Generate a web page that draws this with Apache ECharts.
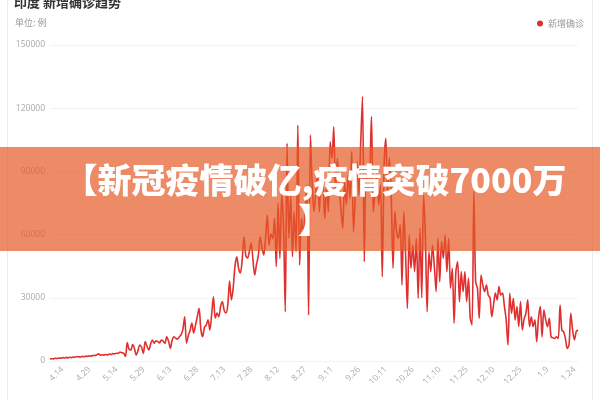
<!DOCTYPE html>
<html>
<head>
<meta charset="utf-8">
<script src="https://cdn.jsdelivr.net/npm/echarts@6/dist/echarts.min.js"></script>
<style>
html,body{margin:0;padding:0;background:#fff;}
#chart{width:600px;height:400px;}
</style>
</head>
<body>
<div id="chart"></div>
<script>
// Daily new confirmed cases, India
var startYear = 2020, startMonth = 4, startDay = 7; // first point: 4.07
var tickLabels = ['4.14','4.29','5.14','5.29','6.13','6.28','7.13','7.28','8.12','8.27',
  '9.11','9.26','10.11','10.26','11.10','11.25','12.10','12.25','1.9','1.24'];
var newCases = [
  900,1100,1000,1300,1200,1400,1300,1600,1400,1700,1500,1800,1600,1900,1800,2100,
  2000,
  1900,2200,2000,2300,2200,2500,2300,2700,2600,2900,3400,2800,3000,2800,3100,2900,
  3300,3100,3500,3400,3700,3600,4300,3900,3700,2200,8700,5600,5200,7800,6000,2800,
  5000,
  7600,6500,3600,9200,7000,5200,8000,10000,8400,9600,9200,8600,10000,9400,8400,11500,
  9500,6000,9800,11500,10800,10400,11500,12500,15000,21000,8500,12000,14500,18000,13300,17000,
  21000,
  25000,15000,11500,16000,17000,19500,14700,22000,30500,20400,22800,21000,26000,28100,24000,22800,
  26600,38000,29000,34700,45000,49500,44000,41800,48000,59000,50000,48900,52000,56000,48000,40800,
  46000,
  50000,59000,54000,50300,58000,69300,55000,60300,58000,67700,44800,75000,48700,78800,64600,23400,
  103300,58200,78800,49500,70900,51900,112000,45600,67700,60000,70900,83500,21800,107300,83500,70900,
  80000,
  89900,70900,85000,83500,67700,83500,70900,104100,96200,111200,80400,96200,83500,72000,63000,85000,
  74100,88300,77200,99400,61400,78800,94600,78800,103300,125500,47100,91500,82000,88000,116000,70900,
  80000,
  89900,74100,83500,40000,91500,105700,78800,96200,78800,44100,70900,61400,58200,64600,36100,70900,
  50300,25000,59800,44000,55000,42400,58200,29800,63000,30000,78800,59800,23400,51900,42400,55000,
  45000,
  32900,58200,37600,56700,48700,59800,42400,58200,34500,44000,17900,42400,47100,28200,42400,32900,
  42400,28200,39200,20300,17100,80400,37600,34500,20300,40800,36100,32900,36100,31300,30000,21000,
  27000,
  32300,29000,35300,31300,32300,26000,19500,7600,32100,22600,29800,19500,25800,16300,28200,14700,
  20000,22600,29000,16300,21000,16300,19500,9200,20300,25800,11500,24200,19500,16300,20300,11500,
  11000,
  10700,11500,10700,26600,14700,13900,10700,6000,7600,22600,14700,10000,13900,14700
];
var categories = [];
for (var i = 0; i < newCases.length; i++) {
  var dt = new Date(startYear, startMonth - 1, startDay + i);
  categories.push((dt.getMonth() + 1) + '.' + dt.getDate());
}
var yTicks = [0, 30000, 60000, 90000, 120000, 150000];

var chart = echarts.init(document.getElementById('chart'), null, {renderer: 'canvas'});
chart.setOption({
  animation: false,
  backgroundColor: '#fff',
  title: [
    {text: '印度 新增确诊趋势', left: 14, top: -4, padding: 0,
     textStyle: {fontSize: 13, fontWeight: 'bold', color: '#333', fontFamily: '"Noto Sans CJK SC", sans-serif'}},
    {text: '单位: 例', left: 15, top: 18, padding: 0,
     textStyle: {fontSize: 9, fontWeight: 'normal', color: '#999', fontFamily: '"Noto Sans CJK SC", sans-serif'}}
  ],
  legend: {
    right: 16, top: 19, icon: 'circle', itemWidth: 6, itemHeight: 6, padding: 0,
    textStyle: {fontSize: 9, color: '#999', fontFamily: '"Noto Sans CJK SC", sans-serif'},
    data: ['新增确诊']
  },
  grid: {left: 50, right: 22, top: 45, bottom: 39},
  xAxis: {
    type: 'category',
    data: categories,
    boundaryGap: false,
    axisLine: {show: false},
    axisTick: {show: false},
    axisLabel: {
      rotate: 45, fontSize: 8.5, color: '#aaa', margin: 7,
      fontFamily: '"Open Sans", sans-serif',
      interval: function (idx, val) { return tickLabels.indexOf(val) >= 0; }
    },
    splitLine: {show: false}
  },
  yAxis: {
    type: 'value',
    min: yTicks[0], max: yTicks[yTicks.length - 1], interval: 30000,
    axisLine: {show: false},
    axisTick: {show: false},
    axisLabel: {fontSize: 8.5, color: '#aaa', margin: 5, fontFamily: '"Open Sans", sans-serif',
      formatter: function (v) { return String(v); }},
    splitLine: {lineStyle: {color: '#f2f2f2', width: 1}}
  },
  series: [{
    name: '新增确诊',
    type: 'line',
    data: newCases,
    smooth: 0.3,
    symbol: 'none',
    lineStyle: {color: '#e02f2f', width: 1.6},
    itemStyle: {color: '#e02f2f'},
    z: 2
  }],
  graphic: [
    {type: 'rect', z: -1, silent: true,
     shape: {x: 7.5, y: -10, width: 585, height: 420},
     style: {fill: 'none', stroke: '#ececec', lineWidth: 1}},
    {type: 'rect', z: 100, silent: true,
     shape: {x: 0, y: 147, width: 600, height: 104},
     style: {fill: 'rgba(229,90,38,0.7)'}},
    {type: 'text', z: 101, silent: true, x: 315, y: 200,
     style: {text: '【新冠疫情破亿,疫情突破7000万\n】', fill: '#fff',
       font: '900 34px "Noto Sans CJK SC", sans-serif',
       textAlign: 'center', textVerticalAlign: 'middle',
       align: 'center', verticalAlign: 'middle', lineHeight: 40}}
  ]
});
</script>
</body>
</html>
